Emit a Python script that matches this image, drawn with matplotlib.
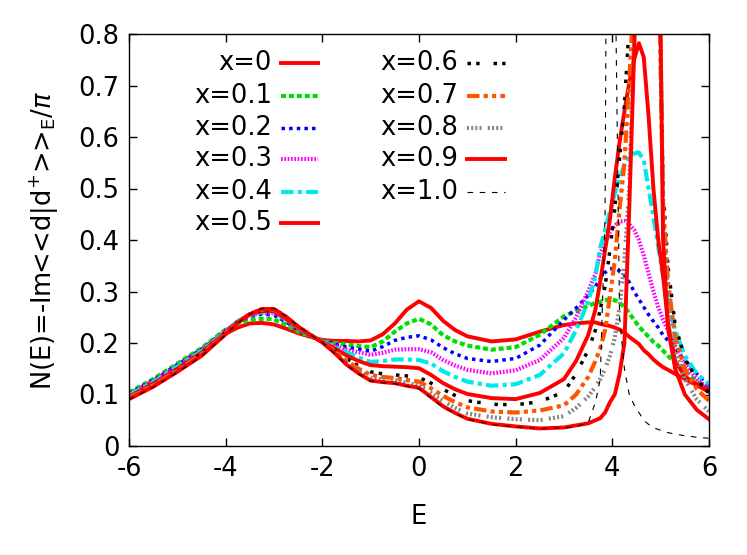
import matplotlib
matplotlib.use("Agg")
import matplotlib.pyplot as plt
from matplotlib.lines import Line2D
from matplotlib.ticker import FixedLocator, FuncFormatter

plt.rcParams['font.family'] = ['DejaVu Sans']
plt.rcParams['mathtext.fontset'] = 'dejavusans'
plt.rcParams['axes.unicode_minus'] = False

# ---------------- data ----------------
energy = [-6, -5.5, -5, -4.5, -4, -3.75, -3.5, -3.25, -3, -2.75, -2.5, -2.25, -2, -1.75, -1.5, -1.25,
          -1, -0.75, -0.5, -0.25, 0, 0.25, 0.5, 0.75, 1, 1.5, 2, 2.5, 3, 3.25, 3.5, 3.65, 3.75,
          3.85, 3.95, 4.05, 4.15, 4.25, 4.35, 4.45, 4.55, 4.65, 4.75, 4.85, 4.95, 5.05, 5.15,
          5.3, 5.5, 5.75, 6]

dos_x00 = [.101, .126, .155, .185, .218, .230, .238, .239, .236, .228, .219, .212, .206, .204, .204, .203,
           .205, .217, .238, .265, .281, .268, .243, .225, .213, .203, .207, .222, .235, .238, .240, .240, .237,
           .235, .233, .230, .226, .220, .212, .205, .198, .186, .178, .168, .160, .153, .148,
           .140, .130, .118, .105]
dos_x01 = [.104, .130, .160, .190, .226, .237, .245, .247, .246, .235, .222, .213, .204, .200, .197, .194,
           .192, .203, .222, .238, .247, .236, .215, .203, .195, .187, .192, .216, .252, .262, .272, .278, .280,
           .283, .285, .283, .278, .270, .258, .245, .232, .222, .212, .202, .195, .185, .175,
           .162, .145, .125, .110]
dos_x02 = [.102, .128, .158, .188, .225, .240, .252, .256, .254, .241, .225, .214, .204, .198, .192, .188,
           .184, .193, .205, .211, .214, .206, .191, .179, .170, .164, .170, .196, .245, .268, .292, .310, .325,
           .337, .344, .345, .340, .332, .318, .300, .285, .270, .255, .242, .230, .215, .205,
           .190, .165, .140, .115]
dos_x03 = [.100, .126, .156, .186, .224, .241, .254, .258, .258, .244, .227, .215, .203, .195, .187, .182,
           .177, .181, .187, .188, .188, .182, .167, .156, .148, .141, .147, .167, .210, .250, .300, .335, .375,
           .395, .415, .428, .436, .437, .430, .420, .400, .370, .335, .300, .270, .245, .225,
           .195, .160, .130, .110]
dos_x04 = [.099, .124, .154, .184, .223, .242, .256, .260, .260, .246, .228, .215, .203, .193, .182, .172,
           .163, .165, .168, .168, .167, .160, .145, .134, .125, .117, .120, .138, .180, .225, .280, .330, .385,
           .420, .455, .490, .520, .545, .560, .568, .570, .555, .500, .445, .387, .330, .280,
           .225, .175, .140, .120]
dos_x05 = [.096, .121, .150, .181, .221, .241, .256, .262, .262, .247, .229, .215, .202, .190, .176, .165,
           .157, .155, .154, .153, .151, .138, .122, .110, .101, .093, .091, .103, .130, .165, .215, .265, .320,
           .380, .440, .520, .590, .650, .705, .750, .782, .755, .640, .500, .400, .330, .240,
           .165, .135, .120, .108]
dos_x06 = [.095, .119, .148, .179, .220, .241, .256, .264, .264, .249, .230, .216, .202, .187, .170, .155,
           .144, .140, .138, .136, .133, .122, .110, .098, .088, .081, .080, .086, .105, .140, .186, .225, .265,
           .310, .380, .460, .560, .660, .820, 1.10, 1.50, 1.60, 1.60, 1.40, 1.00, .500, .350,
           .235, .170, .130, .102]
dos_x07 = [.094, .118, .147, .178, .219, .240, .256, .265, .265, .250, .231, .216, .202, .185, .166, .150,
           .138, .134, .132, .128, .125, .112, .097, .085, .075, .067, .065, .069, .079, .100, .134, .165, .190,
           .225, .290, .360, .460, .550, .710, .880, 1.30, 1.50, 1.60, 1.50, 1.00, .470, .320,
           .210, .150, .110, .088]
dos_x08 = [.093, .117, .146, .177, .218, .240, .256, .266, .266, .251, .232, .216, .202, .183, .162, .146,
           .132, .129, .128, .122, .118, .103, .087, .074, .063, .056, .052, .050, .058, .074, .096, .115, .130,
           .150, .175, .210, .270, .360, .500, .800, 1.20, 1.60, 1.70, 1.60, 1.10, .440, .290,
           .185, .130, .090, .067]
dos_x09 = [.091, .115, .144, .175, .217, .239, .256, .266, .266, .251, .232, .216, .201, .181, .158, .141,
           .127, .124, .122, .117, .113, .095, .077, .064, .053, .043, .038, .034, .036, .040, .044, .050, .054,
           .065, .085, .100, .140, .200, .460, .760, 1.10, 1.50, 1.80, 1.80, 1.20, .400, .230,
           .150, .100, .070, .052]
dos_x10 = [.090, .114, .143, .174, .216, .239, .256, .267, .267, .252, .233, .216, .201, .180, .157, .140,
           .126, .123, .121, .116, .111, .093, .075, .063, .052, .042, .037, .034, .035, .038, .045, .085, .130,
           .450, 2.50, 1.00, .250, .150, .100, .080, .065, .050, .042, .036, .032, .029, .026,
           .023, .020, .017, .015]

labels = ['x=0', 'x=0.1', 'x=0.2', 'x=0.3', 'x=0.4', 'x=0.5',
          'x=0.6', 'x=0.7', 'x=0.8', 'x=0.9', 'x=1.0']
series = [dos_x00, dos_x01, dos_x02, dos_x03, dos_x04, dos_x05,
          dos_x06, dos_x07, dos_x08, dos_x09, dos_x10]
x_ticks = [-6, -4, -2, 0, 2, 4, 6]
y_ticks = [0, 0.1, 0.2, 0.3, 0.4, 0.5, 0.6, 0.7, 0.8]

# ---------------- styles ----------------
styles = [
    dict(color='#ff0000', lw=2.8, ls='-'),
    dict(color='#00e000', lw=3.0, ls=(0, (1.2, 0.7))),
    dict(color='#0000ff', lw=2.5, ls=(0, (1, 1.2))),
    dict(color='#ff00ff', lw=3.0, ls=(0, (0.4, 0.4))),
    dict(color='#00e8e8', lw=3.0, ls=(0, (3, 1, 1, 1))),
    dict(color='#ff0000', lw=2.8, ls='-'),
    dict(color='#000000', lw=2.5, ls=(0, (1, 1.5, 1, 4))),
    dict(color='#ff5500', lw=3.0, ls=(0, (3, 1, 1, 1, 1, 1))),
    dict(color='#888888', lw=3.0, ls=(0, (0.5, 0.5, 0.5, 0.5, 0.5, 0.5, 0.5, 1.5))),
    dict(color='#ff0000', lw=2.8, ls='-'),
    dict(color='#000000', lw=0.8, ls=(0, (5, 6))),
]

FS = 18.5
fig = plt.figure(figsize=(7.47, 5.55), dpi=100)
ax = fig.add_axes([129 / 747, 1 - 446 / 555, 580 / 747, 412 / 555])

for y, st in zip(series, styles):
    ax.plot(energy, y, color=st['color'], lw=st['lw'], linestyle=st['ls'])

ax.set_xlim(-6, 6)
ax.set_ylim(0, 0.8)
ax.xaxis.set_major_locator(FixedLocator(x_ticks))
ax.yaxis.set_major_locator(FixedLocator(y_ticks))
ax.xaxis.set_major_formatter(FuncFormatter(lambda v, p: '%g' % v))
ax.yaxis.set_major_formatter(FuncFormatter(lambda v, p: '%g' % v))
ax.tick_params(direction='in', length=6, width=1, top=True, right=True,
               labelsize=FS, pad=7)
for s in ax.spines.values():
    s.set_linewidth(1.0)

ax.set_xlabel('E', fontsize=FS, labelpad=16)
ax.set_ylabel(r'N(E)=-Im<<d|d$^{+}$>>$_{\mathrm{E}}$/$\pi$', fontsize=FS, labelpad=12)

# gnuplot-style key: right-aligned text followed by a line sample
rows = [0.9296, 0.8495, 0.7718, 0.6966, 0.6165, 0.5413]
cols = [(0.2466, 0.262, 0.326), (0.567, 0.583, 0.648)]
for i, (lab, st) in enumerate(zip(labels, styles)):
    c = 0 if i < 6 else 1
    r = i if i < 6 else i - 6
    tx, l0, l1 = cols[c]
    ty = rows[r]
    ax.text(tx, ty, lab, transform=ax.transAxes, ha='right', va='center', fontsize=FS)
    ax.add_line(Line2D([l0, l1], [ty, ty], transform=ax.transAxes, color=st['color'],
                       lw=st['lw'], linestyle=st['ls'], clip_on=False))

fig.savefig('out.png', dpi=100)
